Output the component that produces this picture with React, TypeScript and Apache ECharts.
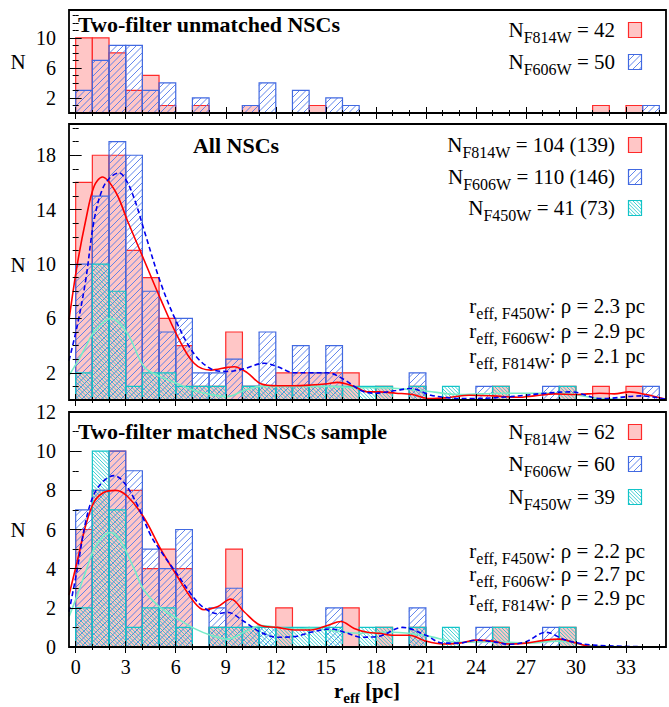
import React, { useEffect, useRef } from 'react';
import * as echarts from 'echarts';

const FONT = "'Liberation Serif', 'Times New Roman', Times, serif";

// r_eff axis (pc); histogram bins are [k, k+1)
const X_MIN = -0.4;
const X_MAX = 35.4;
const xTickLabels = [0, 3, 6, 9, 12, 15, 18, 21, 24, 27, 30, 33];
const xMinorTicks = [0, 1, 2, 3, 4, 5, 6, 7, 8, 9, 10, 11, 12, 13, 14, 15, 16, 17, 18, 19, 20, 21, 22, 23, 24, 25, 26, 27, 28, 29, 30, 31, 32, 33, 34, 35];

// Panel 1: two-filter unmatched NSCs
const unmatchedF814W = [10, 10, 8, 3, 5, 1, 0, 1, 0, 0, 1, 0, 0, 0, 1, 0, 0, 0, 0, 0, 0, 0, 0, 0, 0, 0, 0, 0, 0, 0, 0, 1, 0, 1, 0];
const unmatchedF606W = [3, 7, 9, 9, 3, 4, 0, 2, 0, 0, 1, 4, 0, 3, 0, 2, 1, 0, 0, 0, 0, 0, 0, 0, 0, 0, 0, 0, 0, 0, 0, 0, 0, 0, 1];

// Panel 2: all NSCs
const allF814W = [16, 18, 18, 11, 9, 6, 4, 1, 1, 5, 1, 1, 2, 2, 2, 2, 2, 0, 1, 0, 1, 0, 0, 0, 0, 1, 0, 0, 0, 1, 0, 1, 0, 1, 0];
const allF606W = [10, 15, 19, 18, 8, 5, 6, 2, 2, 3, 1, 5, 1, 4, 2, 4, 0, 0, 0, 0, 2, 0, 0, 0, 1, 0, 0, 0, 1, 0, 0, 0, 0, 0, 1];
const allF450W = [2, 10, 8, 1, 2, 2, 1, 1, 1, 0, 1, 1, 1, 1, 1, 1, 1, 1, 1, 0, 1, 0, 1, 0, 0, 1, 0, 0, 0, 1, 0, 0, 0, 0, 0];

// Panel 3: two-filter matched sample
const matchedF814W = [6, 8, 10, 8, 4, 5, 4, 0, 1, 5, 1, 0, 2, 0, 0, 0, 2, 0, 1, 0, 1, 0, 0, 0, 0, 1, 0, 0, 0, 1, 0, 0, 0, 0, 0];
const matchedF606W = [7, 8, 10, 9, 5, 4, 6, 0, 2, 3, 1, 1, 0, 0, 0, 2, 0, 0, 0, 0, 2, 0, 0, 0, 1, 0, 0, 0, 1, 0, 0, 0, 0, 0, 0];
const matchedF450W = [2, 10, 7, 1, 2, 2, 1, 0, 1, 1, 1, 1, 1, 1, 1, 1, 0, 1, 1, 0, 1, 0, 1, 0, 0, 1, 0, 0, 0, 1, 0, 0, 0, 0, 0];

// Smoothed density curves [r_eff, N]
const allF814WCurve = [[-0.4, 5.9], [0.1, 10.0], [0.6, 13.2], [1.1, 15.7], [1.6, 16.4], [2.4, 15.3], [3.1, 13.2], [4.1, 10.3], [5.1, 7.4], [6.1, 4.7], [7.1, 2.7], [8.1, 2.2], [9.1, 2.4], [9.5, 2.45], [10.3, 2.0], [11.1, 1.2], [12.1, 1.05], [13.1, 1.05], [14.1, 1.1], [15.1, 1.2], [15.7, 1.3], [16.7, 1.0], [17.5, 0.6], [18.2, 0.6], [19.2, 0.5], [20.2, 0.4], [21.2, 0.1], [22.5, 0.2], [23.6, 0.35], [25, 0.3], [26.5, 0.2], [27.5, 0.3], [28.7, 0.45], [30, 0.4], [31.4, 0.5], [32.3, 0.45], [33.2, 0.6], [34.2, 0.4], [35.4, 0.05]];
const allF606WCurve = [[-0.4, 2.9], [0.1, 5.5], [0.6, 8.8], [1.1, 13.2], [1.6, 15.5], [2.1, 16.4], [2.6, 16.7], [3.1, 16.0], [3.6, 14.5], [4.1, 12.5], [5.1, 8.6], [6.1, 5.6], [7.1, 3.4], [8.1, 2.3], [9.1, 2.1], [10.1, 2.3], [11.3, 2.7], [12.1, 2.45], [13.1, 2.0], [14.1, 2.0], [15.1, 2.0], [16.1, 1.5], [17.1, 0.7], [17.9, 0.5], [19.2, 0.7], [20.1, 0.85], [21.3, 0.35], [22.5, 0.15], [23.7, 0.1], [26.1, 0.25], [28.2, 0.5], [29.7, 0.6], [31.5, 0.1], [33.9, 0.3], [35.4, 0.05]];
const allF450WCurve = [[-0.4, 1.8], [0.1, 2.8], [0.6, 3.9], [1.1, 5.0], [2.1, 6.0], [3.1, 4.9], [4.1, 2.45], [5.1, 1.7], [6.1, 1.2], [7.1, 0.7], [8.1, 0.4], [9.1, 0.25], [10.1, 0.7], [11.1, 1.0], [13.1, 1.0], [15.1, 1.0], [17.1, 0.9], [18.2, 0.9], [20.7, 0.7], [23.1, 0.4], [25.5, 0.5], [29.1, 0.5], [31.5, 0.1], [35.4, 0.0]];

const matchedF814WCurve = [[-0.4, 2.65], [0.1, 4.4], [0.6, 6.2], [1.1, 7.4], [1.7, 7.9], [2.4, 8.0], [3.1, 7.7], [4.1, 6.6], [5.1, 5.0], [6.1, 3.6], [7.1, 2.3], [7.7, 1.9], [8.5, 2.05], [9.3, 2.45], [10.1, 1.8], [11.1, 1.1], [12.1, 1.0], [13.1, 0.87], [14.1, 0.87], [15.1, 1.1], [15.9, 1.3], [16.7, 0.95], [17.5, 0.75], [18.2, 0.7], [19, 0.6], [20, 0.6], [21, 0.3], [22, 0.15], [23, 0.2], [24, 0.35], [25, 0.3], [26, 0.15], [27, 0.2], [28.2, 0.35], [29, 0.4], [30, 0.2], [31, 0.02], [35.4, 0.0]];
const matchedF606WCurve = [[-0.4, 1.8], [0.1, 4.0], [0.6, 6.4], [1.1, 7.8], [1.7, 8.5], [2.3, 8.75], [2.9, 8.4], [3.7, 7.25], [4.5, 5.7], [5.1, 4.9], [6.1, 3.7], [7.1, 2.5], [7.7, 2.0], [8.5, 1.7], [9.1, 1.77], [10.1, 1.3], [11.1, 0.75], [12.1, 0.5], [13.1, 0.53], [14.1, 0.75], [15.3, 0.92], [16.3, 0.7], [17.1, 0.5], [18.1, 0.53], [19.6, 1.0], [21, 0.6], [22, 0.2], [23, 0.2], [24, 0.35], [25, 0.27], [26, 0.14], [27, 0.27], [28.2, 0.75], [29.4, 0.35], [31, 0.1], [35.4, 0.0]];
const matchedF450WCurve = [[-0.4, 1.55], [0.1, 2.65], [0.6, 3.85], [1.1, 5.0], [1.7, 5.7], [2.1, 5.85], [2.7, 5.4], [3.5, 4.0], [4.1, 2.9], [5.1, 2.0], [6.1, 1.45], [7.1, 0.95], [8.1, 0.6], [9.1, 0.4], [10.1, 0.75], [11.1, 1.1], [12.1, 1.0], [13.1, 0.92], [14.1, 0.95], [15.1, 0.87], [16.1, 0.75], [17.1, 0.7], [18.1, 0.75], [19, 0.75], [21, 0.58], [23, 0.24], [25, 0.27], [27, 0.2], [29, 0.3], [31, 0.05], [35.4, 0.0]];

// y axes
const unmatchedYTicks = [2, 6, 10];
const allYTicks = [2, 6, 10, 14, 18];
const matchedYTicks = [0, 2, 4, 6, 8, 10, 12];

// legend / annotation texts
const panelTitles = ['Two-filter unmatched NSCs', 'All NSCs', 'Two-filter matched NSCs sample'];
const unmatchedCounts = ['= 42', '= 50'];
const allCounts = ['= 104 (139)', '= 110 (146)', '= 41 (73)'];
const matchedCounts = ['= 62', '= 60', '= 39'];
const allRho = [': ρ = 2.3 pc', ': ρ = 2.9 pc', ': ρ = 2.1 pc'];
const matchedRho = [': ρ = 2.2 pc', ': ρ = 2.7 pc', ': ρ = 2.9 pc'];

const RED = '#ff2a2a';
const PINK = '#ffc6c6';
const BLUE = '#4169e1';
const BLUE_HATCH = '#5078ea';
const CYAN = '#12c4c8';

type Kind = 'red' | 'blue' | 'cyan';

function hatch(x0: number, y0: number, x1: number, y1: number, step: number, dir: '/' | '\\', stroke: string, lw: number) {
  const out: any[] = [];
  if (dir === '/') {
    const start = Math.ceil((x0 + y0) / step) * step;
    for (let c = start; c <= x1 + y1; c += step) {
      const xa = Math.max(x0, c - y1);
      const xb = Math.min(x1, c - y0);
      if (xb - xa < 0.2) continue;
      out.push({ type: 'line', silent: true, shape: { x1: xa, y1: c - xa, x2: xb, y2: c - xb }, style: { stroke, lineWidth: lw } });
    }
  } else {
    const start = Math.ceil((x0 - y1) / step) * step;
    for (let c = start; c <= x1 - y0; c += step) {
      const xa = Math.max(x0, c + y0);
      const xb = Math.min(x1, c + y1);
      if (xb - xa < 0.2) continue;
      out.push({ type: 'line', silent: true, shape: { x1: xa, y1: xa - c, x2: xb, y2: xb - c }, style: { stroke, lineWidth: lw } });
    }
  }
  return out;
}

function drawBox(b: { x: number; y: number; width: number; height: number }, kind: Kind) {
  const els: any[] = [];
  if (kind === 'red') {
    els.push({ type: 'rect', silent: true, shape: b, style: { fill: PINK, stroke: RED, lineWidth: 1.2 } });
  } else if (kind === 'blue') {
    els.push(...hatch(b.x, b.y, b.x + b.width, b.y + b.height, 6.5, '/', BLUE_HATCH, 0.9));
    els.push({ type: 'rect', silent: true, shape: b, style: { fill: 'none', stroke: BLUE, lineWidth: 1.2 } });
  } else {
    els.push(...hatch(b.x, b.y, b.x + b.width, b.y + b.height, 3.6, '\\', CYAN, 0.8));
    els.push({ type: 'rect', silent: true, shape: b, style: { fill: 'none', stroke: CYAN, lineWidth: 1.2 } });
  }
  return els;
}

let measureCtx: CanvasRenderingContext2D | null = null;
function textWidth(t: string, size: number, bold?: boolean) {
  if (!measureCtx) measureCtx = document.createElement('canvas').getContext('2d');
  measureCtx!.font = `${bold ? 'bold ' : ''}${size}px ${FONT}`;
  return measureCtx!.measureText(t).width;
}

type Part = { t: string; size: number; bold?: boolean; dy?: number; gap?: number };

function textRun(parts: Part[], anchorX: number, cy: number, align: 'left' | 'right' | 'center') {
  const widths = parts.map((p) => textWidth(p.t, p.size, p.bold));
  const total = parts.reduce((s, p, i) => s + widths[i] + (p.gap || 0), 0);
  let x = align === 'left' ? anchorX : align === 'right' ? anchorX - total : anchorX - total / 2;
  return parts.map((p, i) => {
    x += p.gap || 0;
    const el = {
      type: 'text',
      x,
      y: cy + (p.dy || 0),
      silent: true,
      style: {
        text: p.t,
        fontSize: p.size,
        fontFamily: FONT,
        fontWeight: p.bold ? 'bold' : 'normal',
        fill: '#000',
        align: 'left',
        verticalAlign: 'middle',
        textAlign: 'left',
        textVerticalAlign: 'middle',
      },
    };
    x += widths[i];
    return el;
  });
}

const MAIN = 21;
const TITLE = 22;
const SUB = 16;
const SUB_DY = 7;

function legendRow(filter: string, count: string, cy: number, kind: Kind) {
  const space = textWidth(' ', MAIN);
  const texts = textRun(
    [
      { t: 'N', size: MAIN },
      { t: filter, size: SUB, dy: SUB_DY },
      { t: count, size: MAIN, gap: space },
    ],
    615,
    cy,
    'right'
  );
  const box = { x: 628.5, y: cy - 7.5, width: 13, height: 15 };
  return [...texts, ...drawBox(box, kind)];
}

function rhoRow(filter: string, rest: string, cy: number) {
  return textRun(
    [
      { t: 'r', size: MAIN },
      { t: 'eff, ' + filter, size: SUB, dy: SUB_DY },
      { t: rest, size: MAIN },
    ],
    645,
    cy,
    'right'
  );
}

function panelAxes(grid: number, yMax: number, yTicks: number[], showXLabels: boolean) {
  const tick = { color: '#000', width: 1 };
  const xBase = { type: 'value', gridIndex: grid, min: X_MIN, max: X_MAX, axisLine: { show: false }, splitLine: { show: false }, z: 12 };
  const xs = [
    {
      ...xBase,
      position: 'bottom',
      axisTick: { show: true, inside: true, length: 6, customValues: xTickLabels, lineStyle: tick },
      axisLabel: showXLabels
        ? { show: true, customValues: xTickLabels, fontSize: 20, fontFamily: FONT, color: '#000', margin: 10 }
        : { show: false },
    },
    { ...xBase, position: 'bottom', axisTick: { show: true, inside: true, length: 3, customValues: xMinorTicks, lineStyle: tick }, axisLabel: { show: false } },
    { ...xBase, position: 'top', axisTick: { show: true, inside: true, length: 6, customValues: xTickLabels, lineStyle: tick }, axisLabel: { show: false } },
    { ...xBase, position: 'top', axisTick: { show: true, inside: true, length: 3, customValues: xMinorTicks, lineStyle: tick }, axisLabel: { show: false } },
  ];
  const minor: number[] = [];
  for (let v = 0; v <= yMax; v += 1) minor.push(v);
  const yBase = { type: 'value', gridIndex: grid, min: 0, max: yMax, axisLine: { show: false }, splitLine: { show: false }, z: 12 };
  const ys = [
    {
      ...yBase,
      position: 'left',
      axisTick: { show: true, inside: true, length: 6, customValues: yTicks, lineStyle: tick },
      axisLabel: { show: true, customValues: yTicks, fontSize: 20, fontFamily: FONT, color: '#000', margin: 13 },
    },
    { ...yBase, position: 'left', axisTick: { show: true, inside: true, length: 3, customValues: minor, lineStyle: tick }, axisLabel: { show: false } },
    { ...yBase, position: 'right', axisTick: { show: true, inside: true, length: 6, customValues: yTicks, lineStyle: tick }, axisLabel: { show: false } },
    { ...yBase, position: 'right', axisTick: { show: true, inside: true, length: 3, customValues: minor, lineStyle: tick }, axisLabel: { show: false } },
  ];
  return { xs, ys };
}

function barSeries(values: number[], panel: number, kind: Kind, z: number) {
  const data = values.map((v, k) => [k, k + 1, v]).filter((d) => d[2] > 0);
  return {
    type: 'custom',
    xAxisIndex: panel * 4,
    yAxisIndex: panel * 4,
    clip: true,
    silent: true,
    z,
    encode: { x: [0, 1], y: 2 },
    data,
    renderItem: (_params: any, api: any) => {
      const a = api.coord([api.value(0), 0]);
      const b = api.coord([api.value(1), api.value(2)]);
      const box = { x: a[0], y: b[1], width: b[0] - a[0], height: a[1] - b[1] };
      return { type: 'group', children: drawBox(box, kind) };
    },
  };
}

function curveSeries(points: number[][], panel: number, color: string, dashed: boolean, z: number) {
  return {
    type: 'line',
    xAxisIndex: panel * 4,
    yAxisIndex: panel * 4,
    data: points,
    smooth: 0.35,
    showSymbol: false,
    symbol: 'none',
    clip: true,
    silent: true,
    z,
    lineStyle: { color, width: 1.6, type: dashed ? [5, 3] : 'solid' },
  };
}

function buildOption() {
  const gridBoxes = [
    { left: 69, right: 3, top: 10, height: 103 },
    { left: 69, right: 3, top: 124, height: 276 },
    { left: 69, right: 3, top: 412, height: 235 },
  ];
  const grid = gridBoxes.map((g) => ({
    ...g,
    show: true,
    borderColor: '#000',
    borderWidth: 1.8,
    backgroundColor: 'transparent',
    containLabel: false,
    outerBoundsMode: 'none',
    z: 10,
  }));
  const p0 = panelAxes(0, 13.7, unmatchedYTicks, false);
  const p1 = panelAxes(1, 20.3, allYTicks, false);
  const p2 = panelAxes(2, 12, matchedYTicks, true);

  const series = [
    barSeries(unmatchedF814W, 0, 'red', 2),
    barSeries(unmatchedF606W, 0, 'blue', 3),

    barSeries(allF814W, 1, 'red', 2),
    barSeries(allF606W, 1, 'blue', 3),
    barSeries(allF450W, 1, 'cyan', 4),
    curveSeries(allF450WCurve, 1, '#78ecc8', false, 5),
    curveSeries(allF814WCurve, 1, '#ff0000', false, 6),
    curveSeries(allF606WCurve, 1, '#0000ee', true, 7),

    barSeries(matchedF814W, 2, 'red', 2),
    barSeries(matchedF606W, 2, 'blue', 3),
    barSeries(matchedF450W, 2, 'cyan', 4),
    curveSeries(matchedF450WCurve, 2, '#78ecc8', false, 5),
    curveSeries(matchedF814WCurve, 2, '#ff0000', false, 6),
    curveSeries(matchedF606WCurve, 2, '#0000ee', true, 7),
  ];

  const filters = ['F814W', 'F606W', 'F450W'];
  const kinds: Kind[] = ['red', 'blue', 'cyan'];
  const rhoFilters = ['F450W', 'F606W', 'F814W'];

  const elements: any[] = [];
  // panel titles
  elements.push(...textRun([{ t: panelTitles[0], size: TITLE, bold: true }], 78, 24, 'left'));
  elements.push(...textRun([{ t: panelTitles[1], size: TITLE, bold: true }], 236, 145, 'center'));
  elements.push(...textRun([{ t: panelTitles[2], size: TITLE, bold: true }], 78, 431, 'left'));

  // legends
  [30, 62].forEach((cy, i) => elements.push(...legendRow(filters[i], unmatchedCounts[i], cy, kinds[i])));
  [145, 177, 208].forEach((cy, i) => elements.push(...legendRow(filters[i], allCounts[i], cy, kinds[i])));
  [432, 464, 497].forEach((cy, i) => elements.push(...legendRow(filters[i], matchedCounts[i], cy, kinds[i])));

  // size annotations
  [306, 331, 356].forEach((cy, i) => elements.push(...rhoRow(rhoFilters[i], allRho[i], cy)));
  [551, 574, 598].forEach((cy, i) => elements.push(...rhoRow(rhoFilters[i], matchedRho[i], cy)));

  // axis names
  [62, 265, 530].forEach((cy) => elements.push(...textRun([{ t: 'N', size: MAIN }], 18, cy, 'center')));
  elements.push(
    ...textRun(
      [
        { t: 'r', size: MAIN, bold: true },
        { t: 'eff', size: SUB - 1, bold: true, dy: SUB_DY },
        { t: '[pc]', size: MAIN, bold: true, gap: textWidth(' ', MAIN, true) },
      ],
      367,
      691,
      'center'
    )
  );

  return {
    animation: false,
    backgroundColor: '#fff',
    grid,
    xAxis: [...p0.xs, ...p1.xs, ...p2.xs],
    yAxis: [...p0.ys, ...p1.ys, ...p2.ys],
    series,
    graphic: { elements: elements.map((e) => ({ ...e, z: 20 })) },
  };
}

export default function App() {
  const ref = useRef<HTMLDivElement>(null);
  useEffect(() => {
    const chart = echarts.init(ref.current!, null, { renderer: 'svg' });
    chart.setOption(buildOption() as any);
    return () => chart.dispose();
  }, []);
  return <div ref={ref} style={{ position: 'absolute', left: 0, top: 0, width: 669, height: 707 }} />;
}
